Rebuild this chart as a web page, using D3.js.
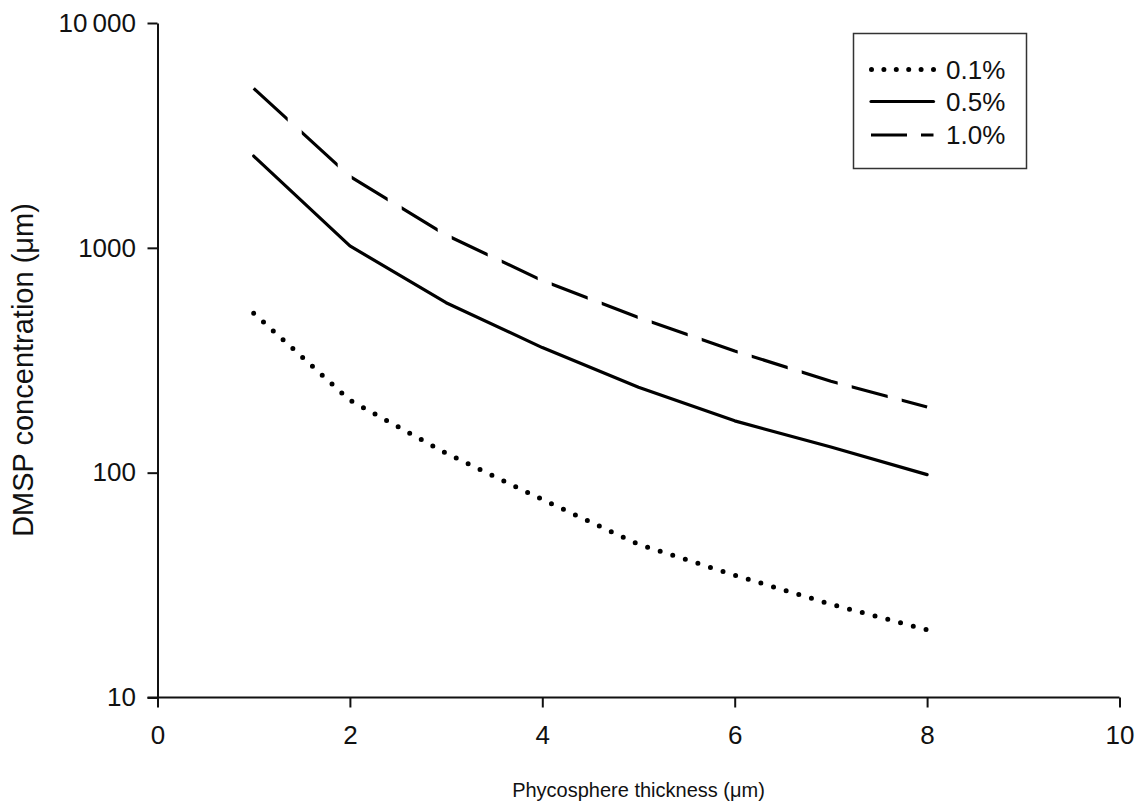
<!DOCTYPE html>
<html>
<head>
<meta charset="utf-8">
<script src="https://cdn.jsdelivr.net/npm/d3@7"></script>
<style>
  html, body { margin: 0; padding: 0; background: #fff; }
  svg { display: block; font-family: "Liberation Sans", Arial, sans-serif; }
</style>
</head>
<body>
<svg id="chart" width="1136" height="805"></svg>
<script>
// Phycosphere thickness (µm)
const thickness = [1, 2, 3, 4, 5, 6, 7, 8];
// DMSP concentration for three cellular DMSP leakage levels
const series01 = [512, 210, 122, 76, 48, 35, 26, 20];
const series05 = [2560, 1020, 570, 360, 240, 170, 130, 98];
const series10 = [5120, 2080, 1140, 715, 490, 348, 255, 196];
const seriesNames = ["0.1%", "0.5%", "1.0%"];

const xTicks = [0, 2, 4, 6, 8, 10];
const yTicks = [10, 100, 1000, 10000];
const yTickLabels = ["10", "100", "1000", "10\u2009000"];

const svg = d3.select("#chart");

const x = d3.scaleLinear().domain([0, 10]).range([157.5, 1119.5]);
const y = d3.scaleLog().domain([10, 10000]).range([697.5, 23]);

// axes
const xAxis = svg.append("g")
  .attr("transform", `translate(0,${y(10)})`)
  .call(d3.axisBottom(x).tickValues(xTicks).tickFormat(d3.format("d"))
    .tickSize(10).tickSizeOuter(0).tickPadding(18.5));

const yAxis = svg.append("g")
  .attr("transform", `translate(${x(0)},0)`)
  .call(d3.axisLeft(y).tickValues(yTicks).tickFormat((d, i) => yTickLabels[i])
    .tickSize(10).tickSizeOuter(0).tickPadding(11.5));

[xAxis, yAxis].forEach(g => {
  g.selectAll("path.domain").attr("stroke", "#111").attr("stroke-width", 2);
  g.selectAll(".tick line").attr("stroke", "#111").attr("stroke-width", 2);
  g.selectAll(".tick text").attr("fill", "#111").style("font-size", "26px")
    .style("font-family", "'Liberation Sans', Arial, sans-serif");
});
// extend the x-axis line left to meet the y tick at 10
xAxis.select("path.domain").attr("d", `M${x(0) - 10},0H${x(10)}`);

// axis titles
svg.append("text")
  .attr("x", (x(0) + x(10)) / 2).attr("y", 797)
  .attr("text-anchor", "middle").attr("fill", "#111")
  .style("font-size", "20px")
  .text("Phycosphere thickness (\u03bcm)");

svg.append("text")
  .attr("transform", `translate(33,370) rotate(-90)`)
  .attr("text-anchor", "middle").attr("fill", "#111")
  .style("font-size", "29px")
  .text("DMSP concentration (\u03bcm)");

// dash stripes for the 1.0% curve (dash pattern runs along x)
const dashPeriod = 50, dashLen = 36;
const defs = svg.append("defs");
const clip = defs.append("clipPath").attr("id", "dashClip");
const dashStarts = d3.range(x(thickness[0]) - 2, x(thickness[thickness.length - 1]) + 2, dashPeriod);
clip.selectAll("rect").data(dashStarts).join("rect")
  .attr("x", d => d).attr("y", 0)
  .attr("width", dashLen).attr("height", 805);

const line = d3.line().x((d, i) => x(thickness[i])).y(d => y(d));

svg.append("path").datum(series01)
  .attr("d", line).attr("fill", "none").attr("stroke", "#000")
  .attr("stroke-width", 5).attr("stroke-linecap", "round")
  .attr("stroke-dasharray", "0 13.2");

svg.append("path").datum(series05)
  .attr("d", line).attr("fill", "none").attr("stroke", "#000")
  .attr("stroke-width", 3.2).attr("stroke-linejoin", "round").attr("stroke-linecap", "round");

svg.append("path").datum(series10)
  .attr("d", line).attr("fill", "none").attr("stroke", "#000")
  .attr("stroke-width", 3.2).attr("stroke-linejoin", "round")
  .attr("clip-path", "url(#dashClip)");

// legend
const legend = svg.append("g");
legend.append("rect")
  .attr("x", 853.5).attr("y", 33.5).attr("width", 173).attr("height", 135)
  .attr("fill", "#fff").attr("stroke", "#333").attr("stroke-width", 1.5);

const legendRows = [
  { name: seriesNames[0], y: 69.5, dash: "0 12.4", width: 5, cap: "round" },
  { name: seriesNames[1], y: 101.5, dash: null, width: 3.2, cap: "round" },
  { name: seriesNames[2], y: 135, dash: "36 14", width: 3.2, cap: "butt" }
];
legendRows.forEach(r => {
  legend.append("line")
    .attr("x1", r.dash === "0 12.4" ? 871.5 : 871).attr("x2", 933.5)
    .attr("y1", r.y).attr("y2", r.y)
    .attr("stroke", "#000").attr("stroke-width", r.width)
    .attr("stroke-linecap", r.cap)
    .attr("stroke-dasharray", r.dash);
  legend.append("text")
    .attr("x", 946).attr("y", r.y + 9)
    .attr("fill", "#111").style("font-size", "26px")
    .text(r.name);
});
</script>
</body>
</html>
